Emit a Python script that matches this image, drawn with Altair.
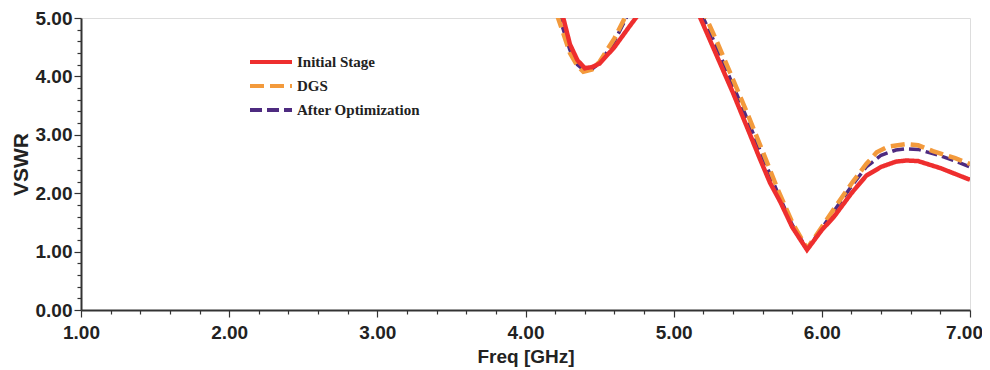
import altair as alt
import pandas as pd

series_names = ["Initial Stage", "DGS", "After Optimization"]
series_colors = ["#EE2E2E", "#F39A3C", "#4E2B80"]

freq_initial = [4.20, 4.25, 4.30, 4.35, 4.40, 4.45, 4.50, 4.60, 4.70, 4.75, 4.80, 4.90, 5.10, 5.18,
                5.30, 5.40, 5.50, 5.58, 5.65, 5.72, 5.80, 5.90, 6.00, 6.08, 6.20, 6.30, 6.40, 6.50,
                6.57, 6.65, 6.80, 6.90, 7.00]
vswr_initial = [6.00, 5.05, 4.55, 4.28, 4.14, 4.16, 4.22, 4.50, 4.85, 5.02, 5.30, 6.00, 6.00, 5.00,
                4.30, 3.72, 3.10, 2.60, 2.18, 1.85, 1.42, 1.03, 1.37, 1.59, 2.00, 2.30, 2.45, 2.54,
                2.56, 2.55, 2.43, 2.33, 2.23]

freq_dgs = [4.18, 4.22, 4.30, 4.35, 4.39, 4.45, 4.50, 4.60, 4.67, 4.75, 4.90, 5.10, 5.22,
            5.30, 5.40, 5.50, 5.60, 5.70, 5.80, 5.90, 6.00, 6.10, 6.21, 6.30, 6.37, 6.45,
            6.57, 6.65, 6.75, 6.90, 7.00]
vswr_dgs = [5.40, 5.00, 4.40, 4.18, 4.08, 4.12, 4.25, 4.65, 5.00, 5.50, 6.00, 6.00, 5.00,
            4.55, 3.95, 3.35, 2.72, 2.08, 1.50, 1.05, 1.42, 1.80, 2.20, 2.50, 2.70, 2.80,
            2.84, 2.82, 2.72, 2.60, 2.50]

freq_opt = [4.18, 4.23, 4.30, 4.35, 4.40, 4.45, 4.50, 4.60, 4.68, 4.75, 4.90, 5.10, 5.20,
            5.30, 5.40, 5.50, 5.60, 5.70, 5.80, 5.90, 6.00, 6.10, 6.20, 6.30, 6.40, 6.50,
            6.57, 6.65, 6.80, 6.90, 7.00]
vswr_opt = [5.40, 5.00, 4.45, 4.20, 4.10, 4.13, 4.23, 4.60, 5.00, 5.50, 6.00, 6.00, 5.00,
            4.45, 3.85, 3.25, 2.63, 2.02, 1.46, 1.04, 1.40, 1.76, 2.12, 2.45, 2.65, 2.74,
            2.76, 2.75, 2.64, 2.55, 2.45]

x_ticks = [round(1 + 0.2 * i, 1) for i in range(31)]
y_ticks = [round(0.2 * i, 1) for i in range(26)]

df = pd.concat([
    pd.DataFrame({"freq": freq_initial, "vswr": vswr_initial, "series": series_names[0]}),
    pd.DataFrame({"freq": freq_dgs, "vswr": vswr_dgs, "series": series_names[1]}),
    pd.DataFrame({"freq": freq_opt, "vswr": vswr_opt, "series": series_names[2]}),
])

major_test = "abs(datum.value - round(datum.value)) < 0.001"

x_axis = alt.Axis(
    values=x_ticks, title="Freq [GHz]",
    labelExpr=f"{major_test} ? format(datum.value, '.2f') : ''",
    labelOverlap=False, labelFlush=False,
    labelOffset={"condition": {"test": "datum.value > 6.9", "value": -6}, "value": 0},
    tickSize={"condition": {"test": major_test, "value": 7}, "value": 4},
    tickColor="#333", tickWidth=1.2, domainColor="#333", domainWidth=2,
    labelFont="Liberation Sans", labelFontWeight="bold", labelFontSize=19, labelColor="#222",
    labelPadding=6,
    titleFont="Liberation Sans", titleFontWeight="bold", titleFontSize=19, titleColor="#222",
    titlePadding=5, grid=False,
)
y_axis = alt.Axis(
    values=y_ticks, title="VSWR",
    labelExpr=f"{major_test} ? format(datum.value, '.2f') : ''",
    labelOverlap=False, labelFlush=False,
    tickSize={"condition": {"test": major_test, "value": 7}, "value": 4},
    tickColor="#333", tickWidth=1.2, domainColor="#333", domainWidth=2,
    labelFont="Liberation Sans", labelFontWeight="bold", labelFontSize=19, labelColor="#222",
    labelPadding=2,
    titleFont="Liberation Sans", titleFontWeight="bold", titleFontSize=21, titleColor="#222",
    titlePadding=4, grid=False,
)

color_scale = alt.Scale(domain=series_names, range=series_colors)
dash_scale = alt.Scale(domain=series_names, range=[[1, 0], [14, 6], [12, 5]])
legend = alt.Legend(
    title=None, orient="none", legendX=177.5, legendY=31.5,
    symbolType="M-2,0L2,0", symbolSize=441, symbolStrokeWidth=4,
    labelFont="Liberation Serif", labelFontWeight="bold", labelFontSize=15, labelColor="#222",
    rowPadding=3, padding=0, labelOffset=13.5,
)

def layer(name, width):
    return alt.Chart(df).transform_filter(alt.datum.series == name).mark_line(
        clip=True, strokeWidth=width, strokeCap="butt"
    ).encode(
        x=alt.X("freq:Q", scale=alt.Scale(domain=[1, 7], nice=False, zero=False), axis=x_axis),
        y=alt.Y("vswr:Q", scale=alt.Scale(domain=[0, 5], nice=False), axis=y_axis),
        color=alt.Color("series:N", scale=color_scale, legend=legend),
        strokeDash=alt.StrokeDash("series:N", scale=dash_scale, legend=legend),
    )

chart = alt.layer(
    layer(series_names[2], 3.5),
    layer(series_names[1], 4.5),
    layer(series_names[0], 4.5),
).properties(
    width=889, height=292,
    autosize=alt.AutoSizeParams(type="none"),
    padding={"left": 73, "top": 10, "right": 12, "bottom": 60},
).configure_view(
    stroke="#333", strokeWidth=2
).configure(background="white")

chart.save("out.html", embed_options={"renderer": "svg", "actions": False})
